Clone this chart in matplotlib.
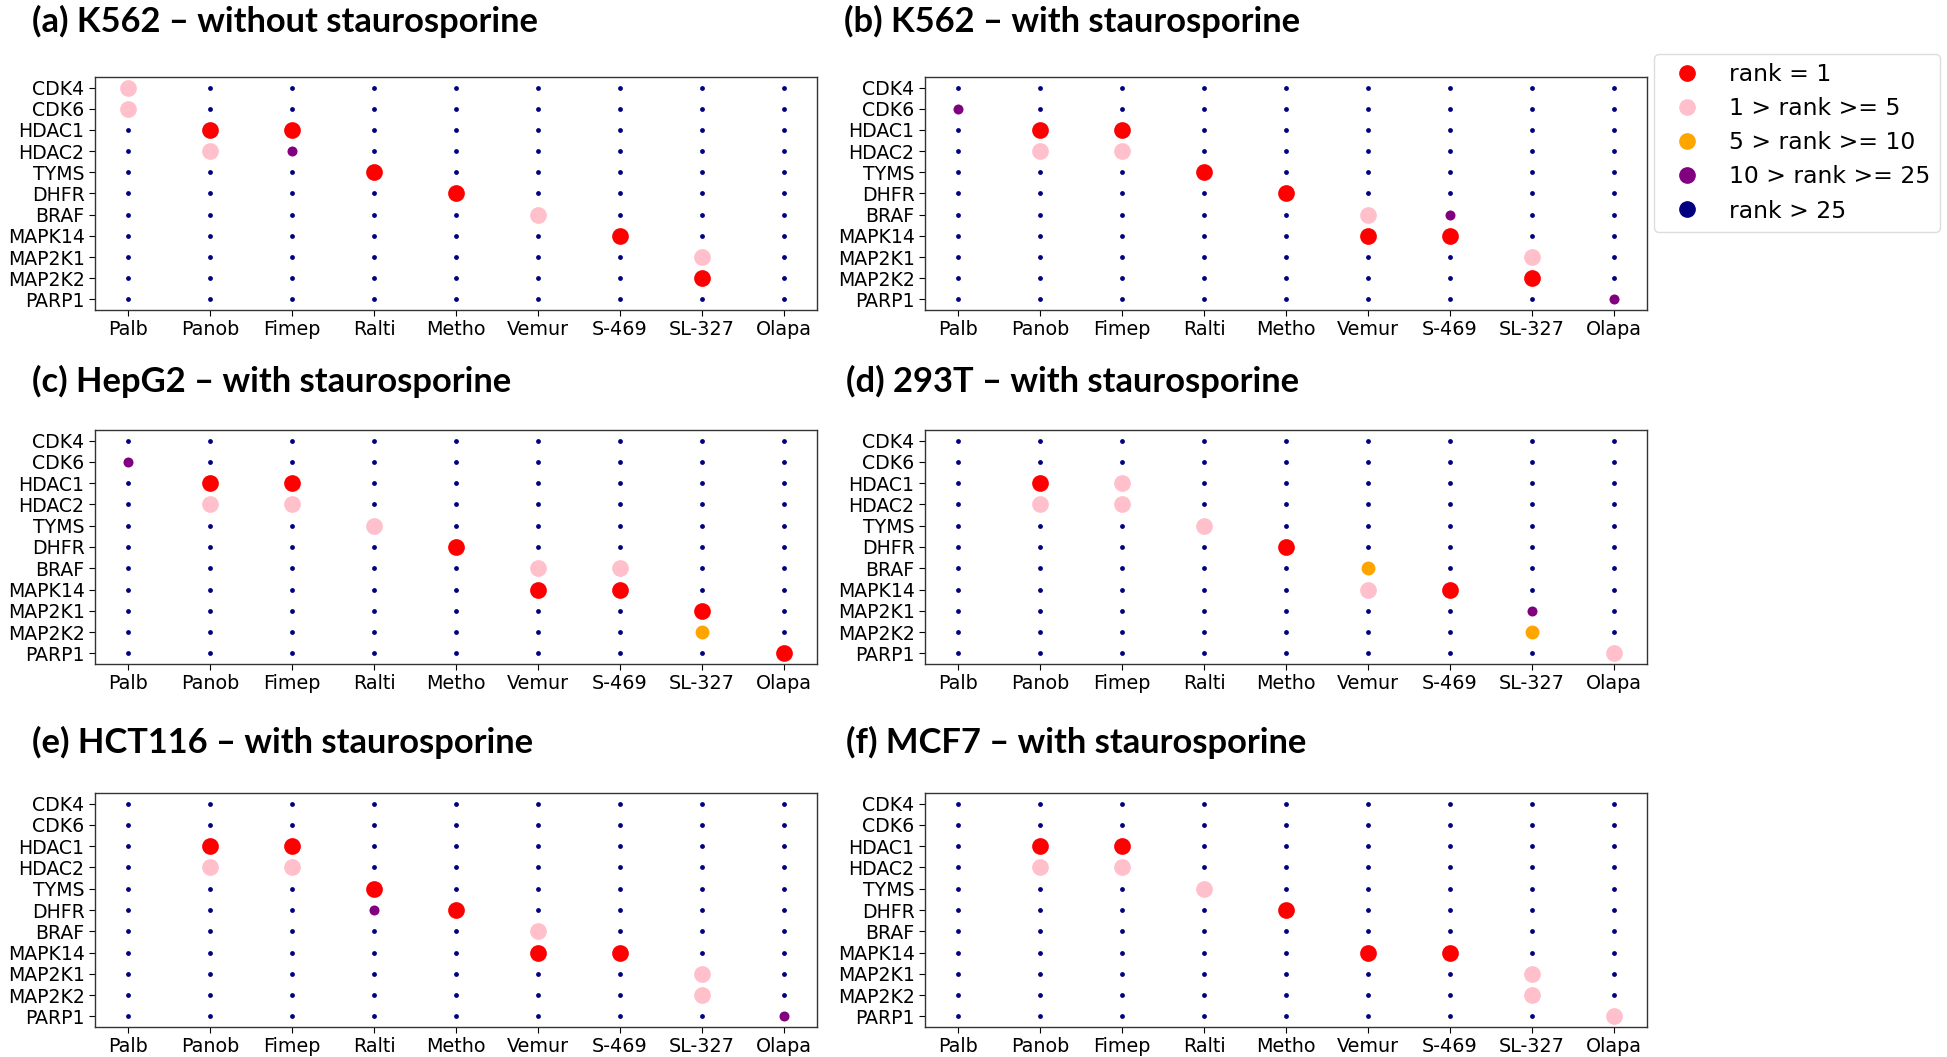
import numpy as np
import matplotlib
matplotlib.use("Agg")
import matplotlib.pyplot as plt
from matplotlib.lines import Line2D

drugs = ["Palb", "Panob", "Fimep", "Ralti", "Metho", "Vemur", "S-469", "SL-327", "Olapa"]
targets = ["CDK4", "CDK6", "HDAC1", "HDAC2", "TYMS", "DHFR", "BRAF", "MAPK14", "MAP2K1", "MAP2K2", "PARP1"]

# rank category codes: 4 = rank 1, 3 = 1 > rank >= 5, 2 = 5 > rank >= 10,
# 1 = 10 > rank >= 25, 0 = rank > 25
categories = ["rank > 25", "10 > rank >= 25", "5 > rank >= 10", "1 > rank >= 5", "rank = 1"]
cat_colors = ["navy", "purple", "orange", "pink", "red"]
cat_sizes = [12, 52, 100, 145, 145]

titles = [
    "(a) K562 \u2013 without staurosporine",
    "(b) K562 \u2013 with staurosporine",
    "(c) HepG2 \u2013 with staurosporine",
    "(d) 293T \u2013 with staurosporine",
    "(e) HCT116 \u2013 with staurosporine",
    "(f) MCF7 \u2013 with staurosporine",
]

#                Palb Panob Fimep Ralti Metho Vemur S469 SL327 Olapa
k562_without = [[3, 0, 0, 0, 0, 0, 0, 0, 0],   # CDK4
                [3, 0, 0, 0, 0, 0, 0, 0, 0],   # CDK6
                [0, 4, 4, 0, 0, 0, 0, 0, 0],   # HDAC1
                [0, 3, 1, 0, 0, 0, 0, 0, 0],   # HDAC2
                [0, 0, 0, 4, 0, 0, 0, 0, 0],   # TYMS
                [0, 0, 0, 0, 4, 0, 0, 0, 0],   # DHFR
                [0, 0, 0, 0, 0, 3, 0, 0, 0],   # BRAF
                [0, 0, 0, 0, 0, 0, 4, 0, 0],   # MAPK14
                [0, 0, 0, 0, 0, 0, 0, 3, 0],   # MAP2K1
                [0, 0, 0, 0, 0, 0, 0, 4, 0],   # MAP2K2
                [0, 0, 0, 0, 0, 0, 0, 0, 0]]   # PARP1

k562_with = [[0, 0, 0, 0, 0, 0, 0, 0, 0],
             [1, 0, 0, 0, 0, 0, 0, 0, 0],
             [0, 4, 4, 0, 0, 0, 0, 0, 0],
             [0, 3, 3, 0, 0, 0, 0, 0, 0],
             [0, 0, 0, 4, 0, 0, 0, 0, 0],
             [0, 0, 0, 0, 4, 0, 0, 0, 0],
             [0, 0, 0, 0, 0, 3, 1, 0, 0],
             [0, 0, 0, 0, 0, 4, 4, 0, 0],
             [0, 0, 0, 0, 0, 0, 0, 3, 0],
             [0, 0, 0, 0, 0, 0, 0, 4, 0],
             [0, 0, 0, 0, 0, 0, 0, 0, 1]]

hepg2_with = [[0, 0, 0, 0, 0, 0, 0, 0, 0],
              [1, 0, 0, 0, 0, 0, 0, 0, 0],
              [0, 4, 4, 0, 0, 0, 0, 0, 0],
              [0, 3, 3, 0, 0, 0, 0, 0, 0],
              [0, 0, 0, 3, 0, 0, 0, 0, 0],
              [0, 0, 0, 0, 4, 0, 0, 0, 0],
              [0, 0, 0, 0, 0, 3, 3, 0, 0],
              [0, 0, 0, 0, 0, 4, 4, 0, 0],
              [0, 0, 0, 0, 0, 0, 0, 4, 0],
              [0, 0, 0, 0, 0, 0, 0, 2, 0],
              [0, 0, 0, 0, 0, 0, 0, 0, 4]]

t293_with = [[0, 0, 0, 0, 0, 0, 0, 0, 0],
             [0, 0, 0, 0, 0, 0, 0, 0, 0],
             [0, 4, 3, 0, 0, 0, 0, 0, 0],
             [0, 3, 3, 0, 0, 0, 0, 0, 0],
             [0, 0, 0, 3, 0, 0, 0, 0, 0],
             [0, 0, 0, 0, 4, 0, 0, 0, 0],
             [0, 0, 0, 0, 0, 2, 0, 0, 0],
             [0, 0, 0, 0, 0, 3, 4, 0, 0],
             [0, 0, 0, 0, 0, 0, 0, 1, 0],
             [0, 0, 0, 0, 0, 0, 0, 2, 0],
             [0, 0, 0, 0, 0, 0, 0, 0, 3]]

hct116_with = [[0, 0, 0, 0, 0, 0, 0, 0, 0],
               [0, 0, 0, 0, 0, 0, 0, 0, 0],
               [0, 4, 4, 0, 0, 0, 0, 0, 0],
               [0, 3, 3, 0, 0, 0, 0, 0, 0],
               [0, 0, 0, 4, 0, 0, 0, 0, 0],
               [0, 0, 0, 1, 4, 0, 0, 0, 0],
               [0, 0, 0, 0, 0, 3, 0, 0, 0],
               [0, 0, 0, 0, 0, 4, 4, 0, 0],
               [0, 0, 0, 0, 0, 0, 0, 3, 0],
               [0, 0, 0, 0, 0, 0, 0, 3, 0],
               [0, 0, 0, 0, 0, 0, 0, 0, 1]]

mcf7_with = [[0, 0, 0, 0, 0, 0, 0, 0, 0],
             [0, 0, 0, 0, 0, 0, 0, 0, 0],
             [0, 4, 4, 0, 0, 0, 0, 0, 0],
             [0, 3, 3, 0, 0, 0, 0, 0, 0],
             [0, 0, 0, 3, 0, 0, 0, 0, 0],
             [0, 0, 0, 0, 4, 0, 0, 0, 0],
             [0, 0, 0, 0, 0, 0, 0, 0, 0],
             [0, 0, 0, 0, 0, 4, 4, 0, 0],
             [0, 0, 0, 0, 0, 0, 0, 3, 0],
             [0, 0, 0, 0, 0, 0, 0, 3, 0],
             [0, 0, 0, 0, 0, 0, 0, 0, 3]]

panels = [k562_without, k562_with, hepg2_with, t293_with, hct116_with, mcf7_with]

W, H = 1947, 1057
fig = plt.figure(figsize=(W / 100, H / 100), dpi=100)

# axes boxes in pixels (left, top, right, bottom)
boxes = [(95, 77, 817, 310), (925, 77, 1647, 310),
         (95, 430, 817, 664), (925, 430, 1647, 664),
         (95, 793, 817, 1027), (925, 793, 1647, 1027)]
title_pos = [(32, 32), (844, 32), (32, 392), (846, 392), (32, 753), (846, 753)]

xi, yi = np.meshgrid(np.arange(len(drugs)), np.arange(len(targets)))
for k, (mat, box, ttl, tp) in enumerate(zip(panels, boxes, titles, title_pos)):
    l, t, r, b = box
    ax = fig.add_axes([l / W, 1 - b / H, (r - l) / W, (b - t) / H])
    m = np.array(mat)
    for c in range(len(categories)):
        sel = m == c
        ax.scatter(xi[sel], yi[sel], s=cat_sizes[c], color=cat_colors[c],
                   linewidths=0, zorder=2 + c)
    ax.set_xlim(-0.4, len(drugs) - 1 + 0.4)
    ax.set_ylim(len(targets) - 1 + 0.5, -0.5)
    ax.set_xticks(np.arange(len(drugs)))
    ax.set_xticklabels(drugs, fontsize=13.8)
    ax.set_yticks(np.arange(len(targets)))
    ax.set_yticklabels(targets, fontsize=13.6)
    ax.tick_params(length=4, pad=3.5)
    for sp in ax.spines.values():
        sp.set_color("#333333")
        sp.set_linewidth(1.0)
    fig.text(tp[0] / W, 1 - tp[1] / H, ttl, fontsize=24.8, fontweight="bold",
             family="Lato", va="baseline", ha="left")

handles = [Line2D([], [], marker="o", ls="", color=cat_colors[c], markersize=11)
           for c in [4, 3, 2, 1, 0]]
labels = [categories[c] for c in [4, 3, 2, 1, 0]]
fig.legend(handles, labels, loc="upper left", bbox_to_anchor=(1654 / W, 1 - 54 / H),
           fontsize=16.9, labelspacing=0.47, borderaxespad=0, framealpha=1,
           edgecolor="#dddddd")

fig.savefig("out.png", dpi=100)
